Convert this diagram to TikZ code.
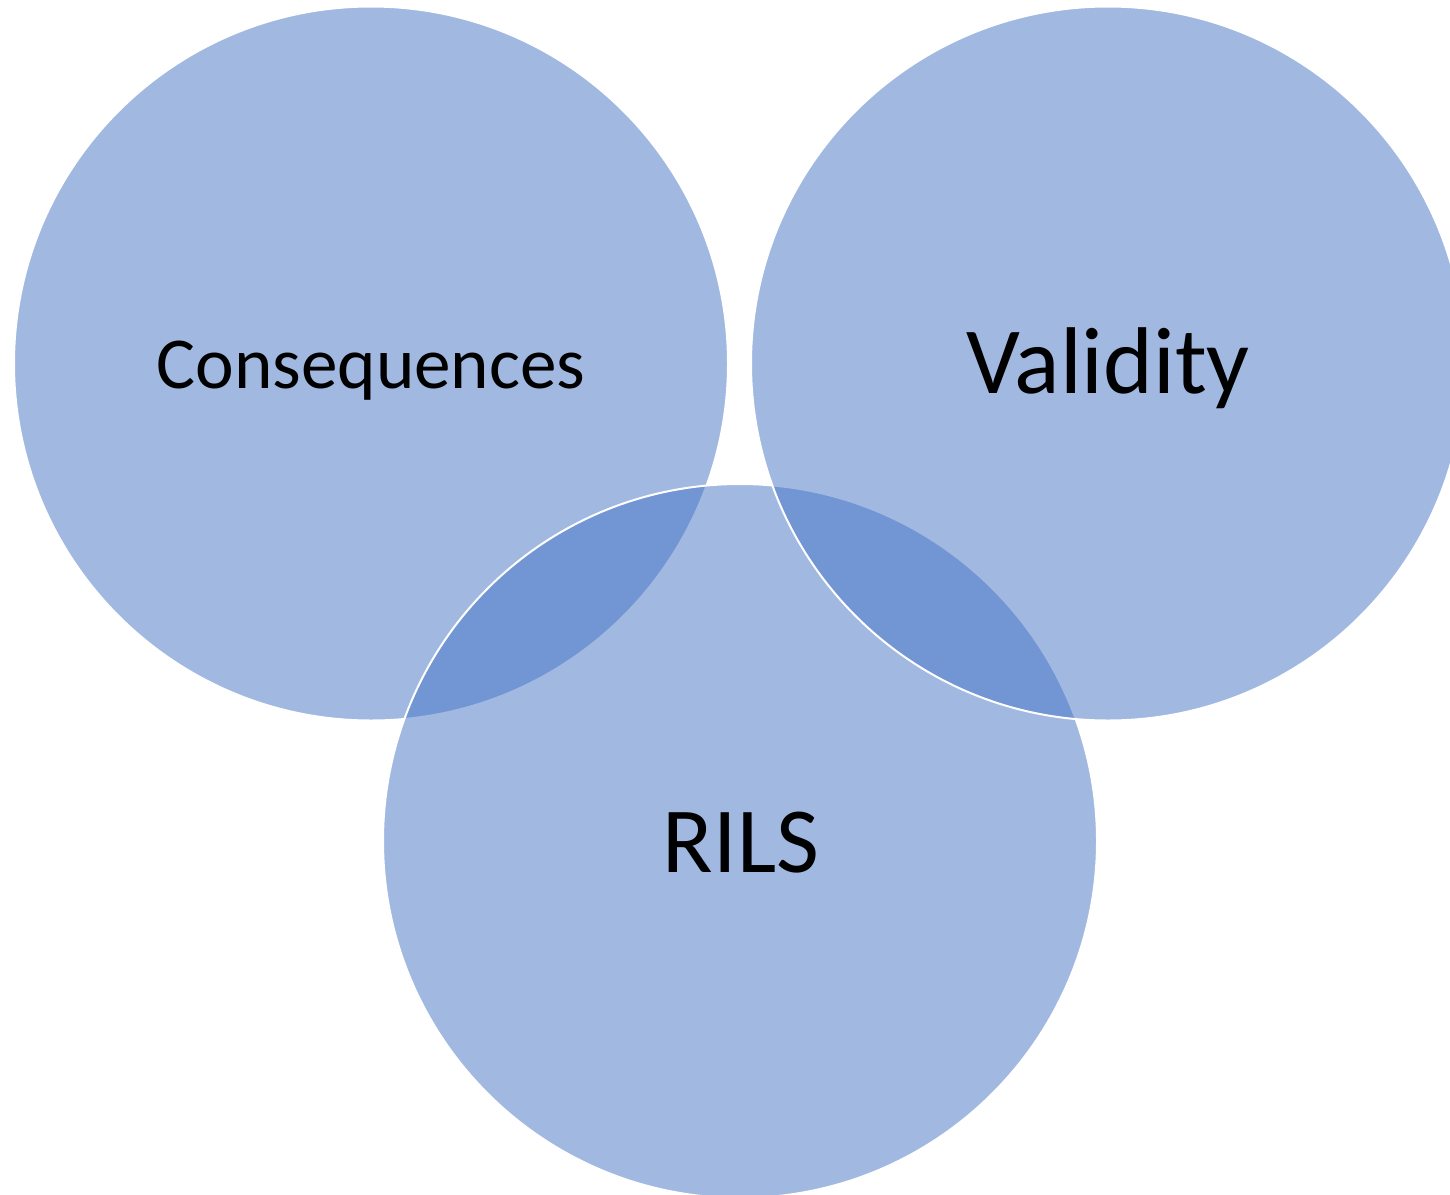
\documentclass[tikz,border=0pt]{standalone}
\usepackage{fontspec}
\setmainfont{Carlito}
\definecolor{vennblue}{RGB}{68,114,196}
\begin{document}
\begin{tikzpicture}[x=0.5pt,y=-0.5pt,
  venn/.style={circle,inner sep=0pt,outer sep=0pt,minimum size=357pt,
    fill=vennblue,fill opacity=0.5,draw=white,draw opacity=1,line width=1pt},
  lbl/.style={anchor=base,text=black,inner sep=0pt}]
\useasboundingbox (0,0) rectangle (1450,1194);
\clip (0,0) rectangle (1450,1194);
\node[venn] (cleft) at (371,363.5) {};
\node[venn] (cbottom) at (740,841) {};
\node[venn] (cright) at (1108,363.5) {};
\node[lbl,font=\fontsize{36.6pt}{40pt}\selectfont] (tcons) at (371,388) {Consequences};
\node[lbl,font=\fontsize{47.4pt}{52pt}\selectfont] (tval) at (1108,393) {Validity};
\node[lbl,font=\fontsize{46.6pt}{52pt}\selectfont] (trils) at (741,872) {RILS};
\end{tikzpicture}
\end{document}
